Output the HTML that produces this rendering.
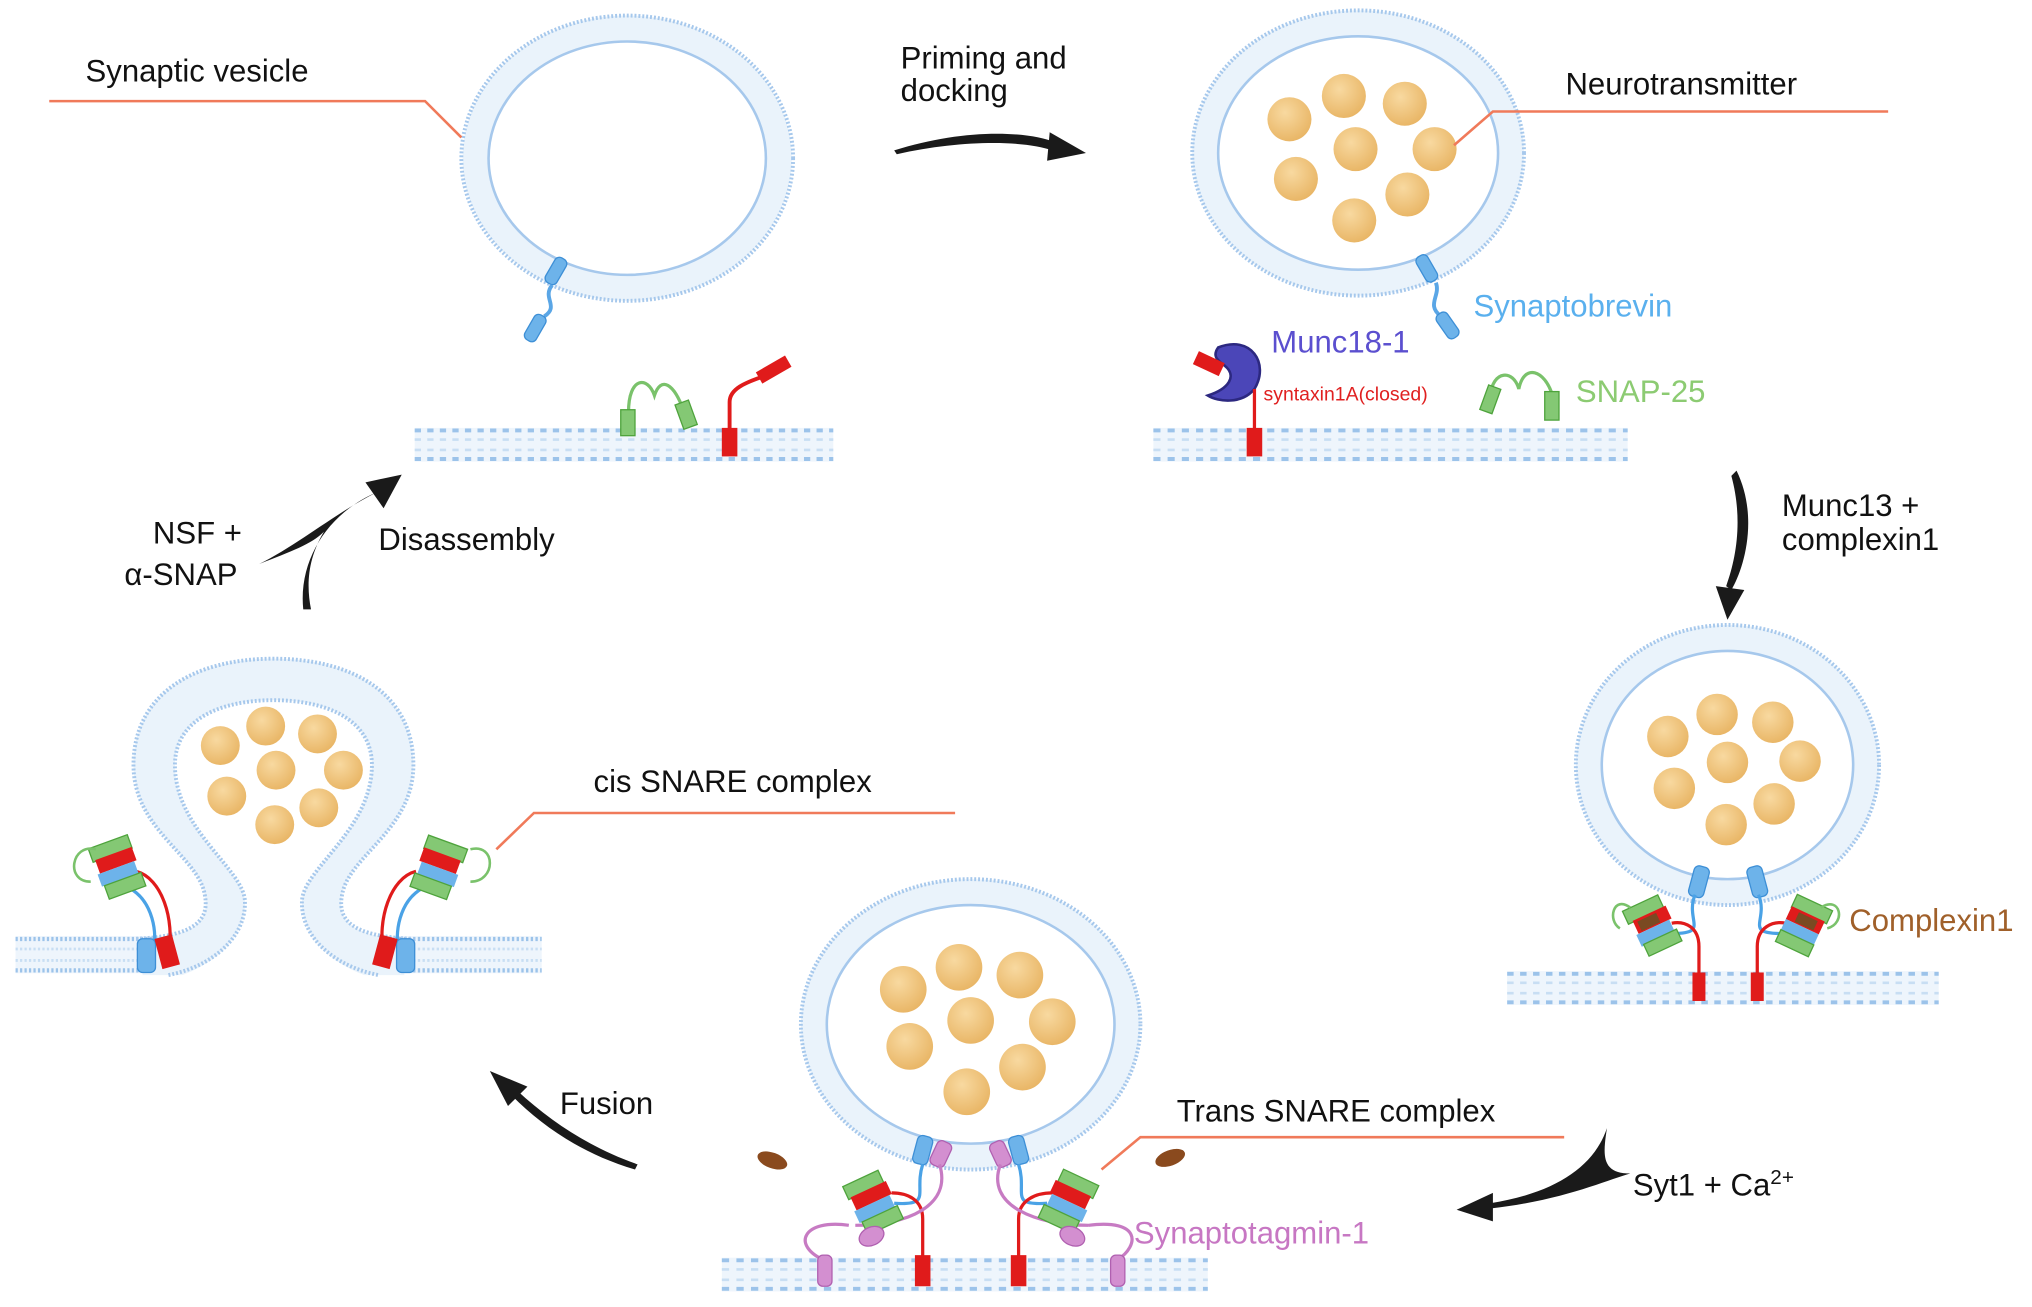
<!DOCTYPE html>
<html><head><meta charset="utf-8"><style>
html,body{margin:0;padding:0;background:#fff;}
svg{display:block;}
text{font-family:"Liberation Sans",sans-serif;}
</style></head><body>
<svg width="2032" height="1307" viewBox="0 0 1568 1008" preserveAspectRatio="none" xmlns="http://www.w3.org/2000/svg">
<defs>
<radialGradient id="ball" cx="40%" cy="35%" r="70%"><stop offset="0" stop-color="#f8d9a0"/><stop offset="1" stop-color="#e8b463"/></radialGradient>
<g id="mem"><rect x="0" y="0" width="100" height="26" fill="#eef5fc"/>
<line x1="0" y1="2" x2="100" y2="2" stroke="#9cc3ea" stroke-width="3" stroke-dasharray="1.5 1.5"/>
<line x1="0" y1="9" x2="100" y2="9" stroke="#c8def3" stroke-width="2" stroke-dasharray="1.5 1.5"/>
<line x1="0" y1="17" x2="100" y2="17" stroke="#c8def3" stroke-width="2" stroke-dasharray="1.5 1.5"/>
<line x1="0" y1="24" x2="100" y2="24" stroke="#9cc3ea" stroke-width="3" stroke-dasharray="1.5 1.5"/></g>
</defs>
<rect width="1568" height="1008" fill="#fff"/>

<!-- membranes -->
<g transform="translate(320,330) scale(3.23,1)"><use href="#mem"/></g>
<g transform="translate(890,330) scale(3.66,1)"><use href="#mem"/></g>
<g transform="translate(1163,749) scale(3.33,1)"><use href="#mem"/></g>
<g transform="translate(557,970) scale(3.75,1)"><use href="#mem"/></g>
<g transform="translate(12,722) scale(1.15,1.1)"><use href="#mem"/></g>
<g transform="translate(297,722) scale(1.21,1.1)"><use href="#mem"/></g>

<g fill="none">
<ellipse cx="484" cy="122" rx="117" ry="100" stroke="#eaf3fb" stroke-width="20"/>
<ellipse cx="484" cy="122" rx="128" ry="110" stroke="#a6c8ec" stroke-width="3" stroke-dasharray="1.5 1.5"/>
<ellipse cx="484" cy="122" rx="107" ry="90" stroke="#a6c8ec" stroke-width="2"/>

<ellipse cx="1048" cy="118" rx="118" ry="100" stroke="#eaf3fb" stroke-width="20"/>
<ellipse cx="1048" cy="118" rx="128" ry="110" stroke="#a6c8ec" stroke-width="3" stroke-dasharray="1.5 1.5"/>
<ellipse cx="1048" cy="118" rx="108" ry="90" stroke="#a6c8ec" stroke-width="2"/>

<ellipse cx="1333" cy="590" rx="107" ry="98" stroke="#eaf3fb" stroke-width="20"/>
<ellipse cx="1333" cy="590" rx="117" ry="108" stroke="#a6c8ec" stroke-width="3" stroke-dasharray="1.5 1.5"/>
<ellipse cx="1333" cy="590" rx="97" ry="88" stroke="#a6c8ec" stroke-width="2"/>

<ellipse cx="749" cy="790" rx="121" ry="102" stroke="#eaf3fb" stroke-width="20"/>
<ellipse cx="749" cy="790" rx="131" ry="112" stroke="#a6c8ec" stroke-width="3" stroke-dasharray="1.5 1.5"/>
<ellipse cx="749" cy="790" rx="111" ry="92" stroke="#a6c8ec" stroke-width="2"/>
</g>

<!-- omega -->
<path d="M110,724 C150,722 162,710 158,690 C153,660 103,640 103,590 C103,535 150,508 211,508 C272,508 319,535 319,590 C319,640 269,660 264,690 C260,710 272,722 312,724 L312,752 L110,752 Z" fill="#eaf3fb"/>
<path d="M135,754 C165,745 190,722 189,695 C188,670 135,640 135,590 C135,555 170,540 211,540 C252,540 287,555 287,590 C287,640 234,670 233,695 C232,722 257,745 287,754 Z" fill="#fff"/>
<g fill="none">
<path d="M105,724 C150,722 162,710 158,690 C153,660 103,640 103,590 C103,535 150,508 211,508 C272,508 319,535 319,590 C319,640 269,660 264,690 C260,710 272,722 317,724" stroke="#a6c8ec" stroke-width="3" stroke-dasharray="1.5 1.5"/>
<path d="M130,752 C165,745 190,722 189,695 C188,670 135,640 135,590 C135,555 170,540 211,540 C252,540 287,555 287,590 C287,640 234,670 233,695 C232,722 257,745 292,752" stroke="#a6c8ec" stroke-width="3" stroke-dasharray="1.5 1.5"/>
</g>

<!-- balls -->
<g fill="url(#ball)">
<circle cx="995" cy="92" r="17"/><circle cx="1037" cy="74" r="17"/><circle cx="1084" cy="80" r="17"/><circle cx="1046" cy="115" r="17"/><circle cx="1107" cy="115" r="17"/><circle cx="1000" cy="138" r="17"/><circle cx="1086" cy="150" r="17"/><circle cx="1045" cy="170" r="17"/>
<circle cx="1287" cy="568" r="16"/><circle cx="1325" cy="551" r="16"/><circle cx="1368" cy="557" r="16"/><circle cx="1333" cy="588" r="16"/><circle cx="1389" cy="587" r="16"/><circle cx="1292" cy="608" r="16"/><circle cx="1369" cy="620" r="16"/><circle cx="1332" cy="636" r="16"/>
<circle cx="697" cy="763" r="18"/><circle cx="740" cy="746" r="18"/><circle cx="787" cy="752" r="18"/><circle cx="749" cy="787" r="18"/><circle cx="812" cy="788" r="18"/><circle cx="702" cy="807" r="18"/><circle cx="789" cy="823" r="18"/><circle cx="746" cy="842" r="18"/>
<circle cx="170" cy="575" r="15"/><circle cx="205" cy="560" r="15"/><circle cx="245" cy="566" r="15"/><circle cx="213" cy="594" r="15"/><circle cx="265" cy="594" r="15"/><circle cx="175" cy="614" r="15"/><circle cx="246" cy="623" r="15"/><circle cx="212" cy="636" r="15"/>
</g>

<!-- panel 1 proteins -->
<rect x="424" y="198" width="10" height="22" rx="4" fill="#6db3ea" stroke="#3d8fd6" transform="rotate(30 429 209)"/>
<path d="M426,220 C418,230 432,236 420,244" stroke="#5aa6e6" stroke-width="3" fill="none"/>
<rect x="408" y="242" width="10" height="22" rx="4" fill="#6db3ea" stroke="#3d8fd6" transform="rotate(30 413 253)"/>
<path d="M485,318 C485,290 500,290 505,305 C510,290 520,295 528,318" stroke="#7ac26b" stroke-width="2.5" fill="none"/>
<rect x="479" y="316" width="11" height="20" fill="#84c874" stroke="#4ea33c"/>
<rect x="524" y="310" width="11" height="20" fill="#84c874" stroke="#4ea33c" transform="rotate(-20 529 320)"/>
<path d="M563,332 L563,310 C563,300 575,295 590,290" stroke="#e01b1b" stroke-width="3" fill="none"/>
<rect x="557" y="330" width="12" height="22" fill="#e01b1b"/>
<rect x="584" y="280" width="26" height="10" fill="#e01b1b" transform="rotate(-30 597 285)"/>

<!-- panel 2 proteins -->
<rect x="1096" y="196" width="10" height="22" rx="4" fill="#6db3ea" stroke="#3d8fd6" transform="rotate(-30 1101 207)"/>
<path d="M1108,218 C1112,228 1100,235 1112,244" stroke="#5aa6e6" stroke-width="3" fill="none"/>
<rect x="1112" y="240" width="10" height="22" rx="4" fill="#6db3ea" stroke="#3d8fd6" transform="rotate(-35 1117 251)"/>
<path d="M940,268 C965,258 980,280 968,300 C958,312 940,310 932,305 C948,300 955,290 945,282 C940,278 935,275 940,268 Z" fill="#4b46b8" stroke="#2c2880" stroke-width="2"/>
<rect x="922" y="275" width="22" height="11" fill="#e01b1b" transform="rotate(25 933 280)"/>
<line x1="968" y1="300" x2="968" y2="332" stroke="#e01b1b" stroke-width="2.5"/>
<rect x="962" y="330" width="12" height="22" fill="#e01b1b"/>
<path d="M1150,305 C1152,285 1168,285 1172,300 C1176,280 1192,285 1198,305" stroke="#7ac26b" stroke-width="2.5" fill="none"/>
<rect x="1145" y="298" width="10" height="20" fill="#84c874" stroke="#4ea33c" transform="rotate(20 1150 308)"/>
<rect x="1192" y="302" width="11" height="22" fill="#84c874" stroke="#4ea33c"/>

<!-- panel 3 proteins -->
<g>
<rect x="1305" y="668" width="12" height="24" rx="4" fill="#6db3ea" stroke="#3d8fd6" transform="rotate(15 1311 680)"/>
<rect x="1350" y="668" width="12" height="24" rx="4" fill="#6db3ea" stroke="#3d8fd6" transform="rotate(-15 1356 680)"/>
<path d="M1308,690 C1300,710 1320,720 1290,720" stroke="#4aa2e6" stroke-width="2.5" fill="none"/>
<path d="M1357,690 C1365,710 1345,720 1375,720" stroke="#4aa2e6" stroke-width="2.5" fill="none"/>
<path d="M1311,752 L1311,730 C1311,715 1300,710 1290,712" stroke="#e01b1b" stroke-width="2.5" fill="none"/>
<path d="M1356,752 L1356,730 C1356,715 1368,710 1378,712" stroke="#e01b1b" stroke-width="2.5" fill="none"/>
<rect x="1306" y="750" width="10" height="22" fill="#e01b1b"/><rect x="1351" y="750" width="10" height="22" fill="#e01b1b"/>
<g transform="rotate(-25 1275 712)"><rect x="1258" y="694" width="30" height="11" fill="#84c874" stroke="#4ea33c"/><rect x="1262" y="704" width="28" height="11" fill="#e01b1b"/><rect x="1265" y="706" width="16" height="8" fill="#7a4a22"/><rect x="1260" y="715" width="28" height="10" fill="#6db3ea"/><rect x="1262" y="724" width="28" height="10" fill="#84c874" stroke="#4ea33c"/></g>
<g transform="rotate(25 1392 712)"><rect x="1378" y="694" width="30" height="11" fill="#84c874" stroke="#4ea33c"/><rect x="1378" y="704" width="28" height="11" fill="#e01b1b"/><rect x="1385" y="706" width="16" height="8" fill="#7a4a22"/><rect x="1378" y="715" width="28" height="10" fill="#6db3ea"/><rect x="1378" y="724" width="28" height="10" fill="#84c874" stroke="#4ea33c"/></g>
<path d="M1258,700 C1245,690 1240,710 1250,716 M1405,700 C1420,690 1425,712 1410,716" stroke="#7ac26b" stroke-width="2" fill="none"/>
</g>

<!-- panel 4 proteins -->
<g>
<rect x="706" y="876" width="12" height="22" rx="4" fill="#6db3ea" stroke="#3d8fd6" transform="rotate(15 712 887)"/>
<rect x="720" y="880" width="12" height="20" rx="4" fill="#d38fd0" stroke="#b060b0" transform="rotate(25 726 890)"/>
<rect x="780" y="876" width="12" height="22" rx="4" fill="#6db3ea" stroke="#3d8fd6" transform="rotate(-15 786 887)"/>
<rect x="766" y="880" width="12" height="20" rx="4" fill="#d38fd0" stroke="#b060b0" transform="rotate(-25 772 890)"/>
<path d="M712,898 C705,920 720,930 690,928 M786,898 C793,920 778,930 808,928" stroke="#4aa2e6" stroke-width="2.5" fill="none"/>
<path d="M712,972 L712,940 C712,925 700,920 688,920 M786,972 L786,940 C786,925 800,920 812,920" stroke="#e01b1b" stroke-width="2.5" fill="none"/>
<rect x="706" y="968" width="12" height="24" fill="#e01b1b"/><rect x="780" y="968" width="12" height="24" fill="#e01b1b"/>
<path d="M655,945 C620,940 610,960 636,972 M725,898 C735,930 700,945 660,945 M840,945 C880,940 880,960 862,972 M772,898 C760,930 800,945 840,945" stroke="#c77bc3" stroke-width="2.5" fill="none"/>
<rect x="631" y="968" width="11" height="24" rx="4" fill="#d38fd0" stroke="#b060b0"/><rect x="857" y="968" width="11" height="24" rx="4" fill="#d38fd0" stroke="#b060b0"/>
<g transform="rotate(-25 675 928)"><rect x="658" y="906" width="30" height="11" fill="#84c874" stroke="#4ea33c"/><rect x="660" y="916" width="30" height="11" fill="#e01b1b"/><rect x="658" y="927" width="30" height="10" fill="#6db3ea"/><rect x="660" y="937" width="30" height="11" fill="#84c874" stroke="#4ea33c"/><ellipse cx="662" cy="950" rx="10" ry="7" fill="#d38fd0" stroke="#b060b0"/></g>
<g transform="rotate(25 825 928)"><rect x="810" y="906" width="30" height="11" fill="#84c874" stroke="#4ea33c"/><rect x="808" y="916" width="30" height="11" fill="#e01b1b"/><rect x="810" y="927" width="30" height="10" fill="#6db3ea"/><rect x="808" y="937" width="30" height="11" fill="#84c874" stroke="#4ea33c"/><ellipse cx="838" cy="950" rx="10" ry="7" fill="#d38fd0" stroke="#b060b0"/></g>
<ellipse cx="596" cy="895" rx="12" ry="6" fill="#8a4a1e" transform="rotate(20 596 895)"/>
<ellipse cx="903" cy="893" rx="12" ry="6" fill="#8a4a1e" transform="rotate(-20 903 893)"/>
</g>

<!-- panel 5 proteins -->
<g>
<path d="M100,685 C118,695 122,720 118,735 M326,685 C308,695 304,720 308,735" stroke="#4aa2e6" stroke-width="2.5" fill="none"/>
<path d="M105,672 C125,677 135,710 130,735 M321,672 C301,677 291,710 296,735" stroke="#e01b1b" stroke-width="2.5" fill="none"/>
<rect x="106" y="724" width="14" height="26" rx="4" fill="#6db3ea" stroke="#3d8fd6"/><rect x="122" y="722" width="14" height="24" fill="#e01b1b" transform="rotate(-15 129 734)"/>
<rect x="306" y="724" width="14" height="26" rx="4" fill="#6db3ea" stroke="#3d8fd6"/><rect x="290" y="722" width="14" height="24" fill="#e01b1b" transform="rotate(15 297 734)"/>
<g transform="rotate(-20 90 668)"><rect x="74" y="648" width="32" height="11" fill="#84c874" stroke="#4ea33c"/><rect x="76" y="658" width="30" height="11" fill="#e01b1b"/><rect x="74" y="669" width="30" height="10" fill="#6db3ea"/><rect x="76" y="679" width="30" height="11" fill="#84c874" stroke="#4ea33c"/></g>
<g transform="rotate(20 338 668)"><rect x="323" y="648" width="32" height="11" fill="#84c874" stroke="#4ea33c"/><rect x="323" y="658" width="30" height="11" fill="#e01b1b"/><rect x="325" y="669" width="30" height="10" fill="#6db3ea"/><rect x="323" y="679" width="30" height="11" fill="#84c874" stroke="#4ea33c"/></g>
<path d="M74,655 C55,650 50,680 70,680 M363,655 C383,650 383,680 363,680" stroke="#7ac26b" stroke-width="2" fill="none"/>
</g>

<!-- leader lines -->
<g stroke="#f07a5a" stroke-width="2" fill="none">
<path d="M38,78 L328,78 L356,106"/>
<path d="M1122,112 L1152,86 L1457,86"/>
<path d="M383,655 L412,627 L737,627"/>
<path d="M850,902 L880,877 L1207,877"/>
</g>

<!-- arrows -->
<g fill="#1a1a1a">
<path d="M690,116 C740,100 790,100 815,110 L812,116 C790,108 740,108 692,119 Z"/><path d="M838,118 L810,102 L808,124 Z"/>
<path d="M1340,363 C1358,400 1345,440 1336,455 L1332,452 C1340,430 1345,400 1336,367 Z"/><path d="M1333,478 L1324,452 L1346,455 Z"/>
<path d="M1240,870 C1230,900 1200,920 1150,928 L1150,932 C1205,926 1240,910 1258,905 C1235,905 1237,890 1240,870 Z"/><path d="M1124,933 L1152,920 L1152,942 Z"/>
<path d="M490,902 C450,890 420,870 395,845 L399,841 C425,865 455,885 492,898 Z"/><path d="M378,826 L407,838 L392,853 Z"/>
<path d="M234,470 C230,430 255,395 290,380 C260,395 230,420 200,435 C225,425 240,420 250,410 C238,430 236,450 240,470 Z"/><path d="M310,366 L282,372 L296,392 Z"/>
</g>

<!-- labels -->
<g font-size="24" fill="#111">
<text x="66" y="63">Synaptic vesicle</text>
<text x="695" y="53">Priming and</text>
<text x="695" y="78">docking</text>
<text x="1208" y="73">Neurotransmitter</text>
<text x="1375" y="398">Munc13 +</text>
<text x="1375" y="424">complexin1</text>
<text x="118" y="419">NSF +</text>
<text x="96" y="451">α-SNAP</text>
<text x="292" y="424">Disassembly</text>
<text x="458" y="611">cis SNARE complex</text>
<text x="432" y="859">Fusion</text>
<text x="908" y="865">Trans SNARE complex</text>
<text x="1260" y="922">Syt1 + Ca<tspan font-size="16" dy="-9">2+</tspan></text>
</g>
<text x="1137" y="244" font-size="24" fill="#5ab0ee">Synaptobrevin</text>
<text x="981" y="272" font-size="24" fill="#5b4fcf">Munc18-1</text>
<text x="975" y="309" font-size="15" fill="#e02020" font-family="Liberation Serif,serif">syntaxin1A(closed)</text>
<text x="1216" y="310" font-size="24" fill="#8ccb72">SNAP-25</text>
<text x="1427" y="718" font-size="24" fill="#a0602a">Complexin1</text>
<text x="875" y="959" font-size="24" fill="#c777c3">Synaptotagmin-1</text>
</svg>
</body></html>
